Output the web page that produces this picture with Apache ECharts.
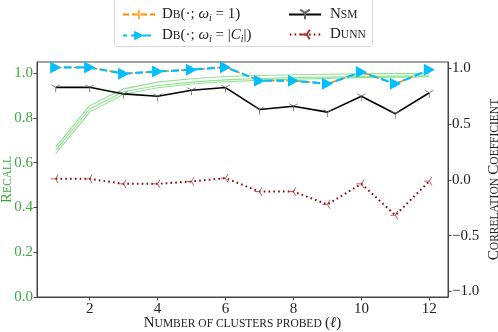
<!DOCTYPE html>
<html>
<head>
<meta charset="utf-8">
<script src="https://cdn.jsdelivr.net/npm/echarts@6/dist/echarts.min.js"></script>
<style>
    html, body { margin: 0; padding: 0; background: #fff; }
    #chart { width: 498px; height: 332px; }
</style>
</head>
<body>
<div id="chart"></div>
<script>
// 横轴：探测的簇数
const clusters = [1, 2, 3, 4, 5, 6, 7, 8, 9, 10, 11, 12];
// Recall 曲线（左轴）
const recallA = [0.67, 0.855, 0.93, 0.96, 0.975, 0.985, 0.99, 0.993, 0.995, 0.997, 0.998, 0.999];
const recallB = [0.655, 0.84, 0.917, 0.945, 0.96, 0.97, 0.976, 0.98, 0.983, 0.985, 0.987, 0.988];
const recallC = [0.64, 0.826, 0.906, 0.935, 0.952, 0.962, 0.968, 0.973, 0.977, 0.98, 0.982, 0.984];
// 相关系数（右轴）
const dbUnit = [1.007, 1.007, 0.951, 0.971, 0.987, 1.01, 0.889, 0.889, 0.86, 0.966, 0.86, 0.987];
const dbSize = [1.007, 1.007, 0.951, 0.971, 0.987, 1.01, 0.889, 0.889, 0.86, 0.966, 0.86, 0.987];
const nsm = [0.829, 0.829, 0.77, 0.749, 0.803, 0.827, 0.631, 0.66, 0.607, 0.749, 0.593, 0.78];
const dunn = [0.009, 0.009, -0.036, -0.036, -0.015, 0.015, -0.105, -0.105, -0.22, -0.036, -0.317, -0.012];
// 刻度
const xTicks = [2, 4, 6, 8, 10, 12];
const leftTicks = [0, 0.2, 0.4, 0.6, 0.8, 1.0];
const rightTicks = [-1, -0.5, 0, 0.5, 1];

const FONT = 'Liberation Serif';
const GREEN = '#3da83d';

const pairs = (arr) => arr.map((v, i) => [clusters[i], v]);
const fmt = (v) => (v < 0 ? '\u2212' : '') + Math.abs(v).toFixed(1);

const triDown = 'path://M0,0L0,10M0,0L-8.66,-5M0,0L8.66,-5';
const triLeft = 'path://M0,0L-10,0M0,0L5,-8.66M0,0L5,8.66';
const plus = 'path://M-5,0L5,0M0,-5L0,5';

const rich = {
    c: { fontFamily: FONT, fontSize: 15, color: '#222' },
    s: { fontFamily: FONT, fontSize: 11.5, color: '#222' },
    n: { fontFamily: FONT, fontSize: 15, color: '#222' },
    i: { fontFamily: FONT, fontSize: 15, fontStyle: 'italic', color: '#222' },
    sub: { fontFamily: FONT, fontSize: 10, fontStyle: 'italic', color: '#222', padding: [7, 0, 0, 0] }
};

const legendNames = {
    db1: '{c|D}{s|B}{n|(\u00b7; }{i|\u03c9}{sub|i}{n| = 1)}',
    db2: '{c|D}{s|B}{n|(\u00b7; }{i|\u03c9}{sub|i}{n| = |}{i|C}{sub|i}{n||)}',
    nsm: '{c|N}{s|SM}',
    dunn: '{c|D}{s|UNN}'
};

const chart = echarts.init(document.getElementById('chart'), null, { renderer: 'canvas' });

const recallSeries = [recallA, recallB, recallC].map((d, k) => ({
    name: 'recall' + k,
    type: 'line',
    yAxisIndex: 0,
    data: pairs(d),
    symbol: 'none',
    z: 1,
    lineStyle: { color: 'rgba(110, 215, 110, 0.75)', width: 1.1 },
    itemStyle: { color: 'rgba(110, 215, 110, 0.75)' }
}));

const option = {
    animation: false,
    graphic: [
        {
            type: 'rect',
            shape: { x: 114.5, y: -3, width: 258, height: 49.5, r: 3 },
            style: { fill: '#fff', stroke: '#d8d8d8', lineWidth: 1 },
            z: -1
        }
    ],
    legend: [
        {
            left: 117,
            top: 2,
            orient: 'vertical',
            itemWidth: 32,
            itemHeight: 12,
            itemGap: 5,
            data: ['db1', 'db2'],
            formatter: (name) => legendNames[name],
            textStyle: { rich: rich, padding: [0, 0, 0, 2] }
        },
        {
            left: 283,
            top: 2,
            orient: 'vertical',
            itemWidth: 32,
            itemHeight: 12,
            itemGap: 5,
            data: ['nsm', 'dunn'],
            formatter: (name) => legendNames[name],
            textStyle: { rich: rich, padding: [0, 0, 0, 4] }
        }
    ],
    grid: {
        left: 37,
        right: 50,
        top: 62,
        bottom: 35,
        outerBoundsMode: 'none',
        show: true,
        borderColor: '#444',
        borderWidth: 1,
        backgroundColor: 'transparent'
    },
    xAxis: {
        type: 'value',
        min: 0.45,
        max: 12.55,
        name: '{c|N}{s|UMBER OF CLUSTERS PROBED} {n|(}{i|\u2113}{n|)}',
        nameLocation: 'middle',
        nameGap: 19,
        nameMoveOverlap: false,
        nameTextStyle: { rich: rich },
        axisLine: { show: true, lineStyle: { color: '#444', width: 1 } },
        axisTick: { show: true, customValues: xTicks, length: 3.5, lineStyle: { color: '#444' } },
        axisLabel: {
            customValues: xTicks,
            fontFamily: FONT,
            fontSize: 15,
            color: '#222',
            margin: 5
        },
        splitLine: { show: false }
    },
    yAxis: [
        {
            type: 'value',
            min: 0,
            max: 1.05,
            position: 'left',
            name: '{c|R}{s|ECALL}',
            nameLocation: 'middle',
            nameRotate: 90,
            nameGap: 22,
            nameMoveOverlap: false,
            nameTextStyle: {
                rich: {
                    c: { fontFamily: FONT, fontSize: 15, color: GREEN },
                    s: { fontFamily: FONT, fontSize: 11.5, color: GREEN }
                }
            },
            axisLine: { show: true, lineStyle: { color: '#444', width: 1 } },
            axisTick: { show: true, customValues: leftTicks, length: 3.5, lineStyle: { color: '#444' } },
            axisLabel: {
                customValues: leftTicks,
                formatter: fmt,
                fontFamily: FONT,
                fontSize: 15,
                color: GREEN,
                margin: 4
            },
            splitLine: { show: false }
        },
        {
            type: 'value',
            min: -1.05,
            max: 1.056,
            position: 'right',
            name: '{c|C}{s|ORRELATION} {c|C}{s|OEFFICIENT}',
            nameLocation: 'middle',
            nameRotate: 90,
            nameGap: 39,
            nameMoveOverlap: false,
            nameTextStyle: { rich: rich },
            axisLine: { show: true, lineStyle: { color: '#444', width: 1 } },
            axisTick: { show: true, customValues: rightTicks, length: 3.5, lineStyle: { color: '#444' } },
            axisLabel: {
                customValues: rightTicks,
                formatter: fmt,
                fontFamily: FONT,
                fontSize: 15,
                color: '#222',
                margin: 4
            },
            splitLine: { show: false }
        }
    ],
    series: [
        ...recallSeries,
        {
            name: 'nsm',
            type: 'line',
            yAxisIndex: 1,
            data: pairs(nsm),
            symbol: triDown,
            symbolSize: [8.6, 7.5],
            symbolOffset: [0, 1.25],
            z: 3,
            lineStyle: { color: '#000', width: 1.6 },
            itemStyle: { color: '#000', borderColor: '#666', borderWidth: 0.8 }
        },
        {
            name: 'dunn',
            type: 'line',
            yAxisIndex: 1,
            data: pairs(dunn),
            symbol: triLeft,
            symbolSize: [7.5, 8.6],
            symbolOffset: [-1.25, 0],
            z: 3,
            lineStyle: { color: '#8b0000', width: 2, type: [1.6, 3.2] },
            itemStyle: { color: '#8b0000', borderColor: '#a33', borderWidth: 0.8 }
        },
        {
            name: 'db1',
            type: 'line',
            yAxisIndex: 1,
            data: pairs(dbUnit),
            symbol: plus,
            symbolSize: 7,
            z: 4,
            lineStyle: { color: '#ff8c00', width: 1.6, type: [6, 3] },
            itemStyle: { color: '#ff8c00', borderColor: '#ffb050', borderWidth: 1 }
        },
        {
            name: 'db2',
            type: 'line',
            yAxisIndex: 1,
            data: pairs(dbSize),
            symbol: 'triangle',
            symbolRotate: -90,
            symbolSize: [12, 11],
            z: 5,
            lineStyle: { color: '#00bfff', width: 2.2, type: [8, 4], dashOffset: 4 },
            itemStyle: { color: '#00bfff' }
        }
    ]
};

chart.setOption(option);
</script>
</body>
</html>
